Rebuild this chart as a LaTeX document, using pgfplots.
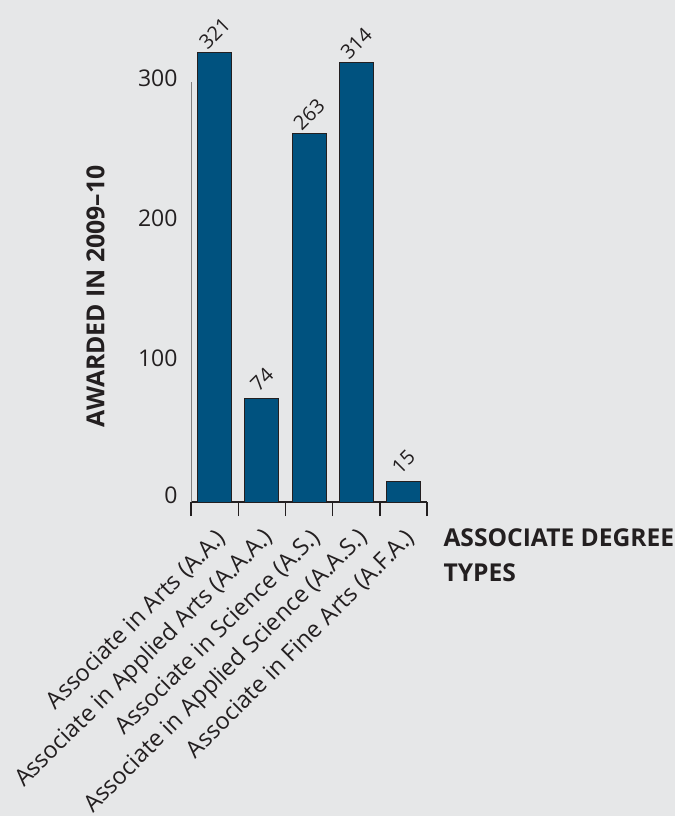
\documentclass[border=0pt]{standalone}
\usepackage{pgfplots}
\pgfplotsset{compat=1.18}
\usepackage{fontspec}
\setmainfont{Open Sans}
\definecolor{bg}{HTML}{E6E7E8}
\definecolor{barblue}{HTML}{00527F}
\definecolor{txt}{HTML}{231F20}
\begin{document}
\begin{tikzpicture}
\useasboundingbox (0,0) rectangle (675pt,816pt);
\fill[bg] (0,0) rectangle (675pt,816pt);
\begin{axis}[
 at={(191pt,314pt)}, anchor=south west,
 width=236pt, height=420pt, scale only axis,
 xmin=-0.5, xmax=4.5, ymin=0, ymax=300,
 clip=false,
 axis x line=bottom, axis y line=left,
 x axis line style={-, line width=1.6pt, draw=txt},
 y axis line style={-, line width=0.8pt, draw=gray},
 /pgf/number format/assume math mode=true,
 xtick={-0.5,0.5,1.5,2.5,3.5,4.5},
 xticklabels={},
 tick align=inside,
 major tick length=14pt,
 x tick style={line width=1.4pt, draw=txt},
 extra x ticks={0,1,2,3,4},
 extra x tick labels={Associate in Arts (A.A.),Associate in Applied Arts (A.A.A.),Associate in Science (A.S.),Associate in Applied Science (A.A.S.),Associate in Fine Arts (A.F.A.)},
 extra x tick style={major tick length=0pt, tick style={draw=none},
   tick label style={xshift=10pt, yshift=-30pt, rotate=45, anchor=east, font=\fontsize{23.5}{26}\selectfont, text=txt}},
 ytick={0,100,200,300},
 yticklabels={\raisebox{6pt}{0},100,200,300},
 y tick style={draw=none},
 yticklabel style={font=\fontsize{23}{28}\selectfont, text=txt, xshift=-10pt, yshift=4pt},
 ylabel={AWARDED IN 2009--10},
 ylabel style={at={(axis description cs:-0.405,0.49)}, anchor=center, font=\bfseries\fontsize{24.8}{28}\selectfont, text=txt},
 xlabel={ASSOCIATE DEGREE\\TYPES},
 xlabel style={at={(axis description cs:1.055,-0.055)}, anchor=north west, align=left, font=\bfseries\fontsize{24.6}{35}\selectfont, text=txt},
 ybar, bar width=34pt, bar shift=0pt,
 nodes near coords,
 nodes near coords style={yshift=19pt, rotate=45, anchor=center, font=\fontsize{20}{22}\selectfont, text=txt},
]
\addplot[fill=barblue, draw=txt, line width=0.8pt] coordinates {(0,321) (1,74) (2,263) (3,314) (4,15)};
\end{axis}
\end{tikzpicture}
\end{document}
